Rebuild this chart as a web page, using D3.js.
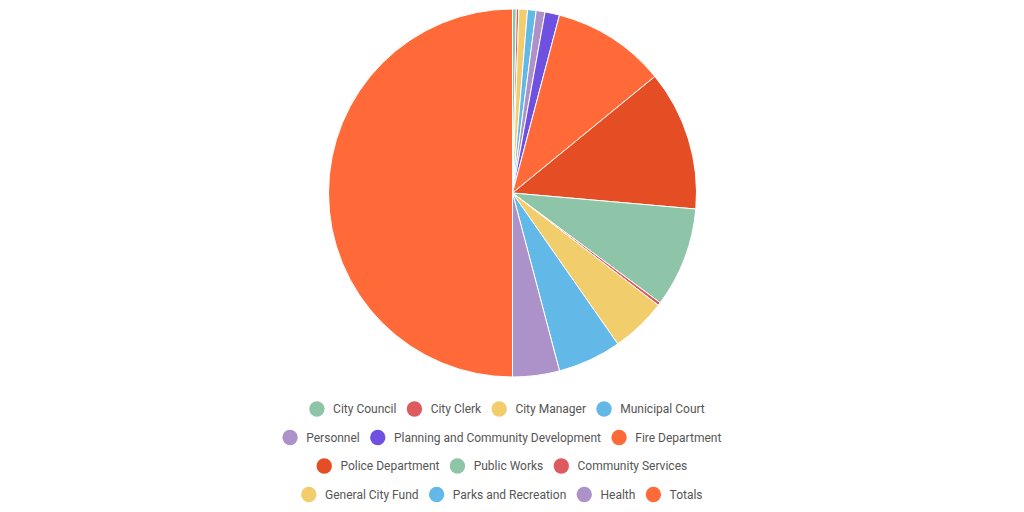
<!DOCTYPE html>
<html>
<head>
<meta charset="utf-8">
<script src="https://cdn.jsdelivr.net/npm/d3@7"></script>
<style>
  html, body { margin: 0; padding: 0; background: #fff; }
  svg { display: block; font-family: Roboto, "Open Sans", sans-serif; }
</style>
</head>
<body>
<div id="chart"></div>
<script>
// Departamentos y montos (en proporción)
const DEPARTMENTS = [
    "City Council", "City Clerk", "City Manager", "Municipal Court",
    "Personnel", "Planning and Community Development", "Fire Department",
    "Police Department", "Public Works", "Community Services",
    "General City Fund", "Parks and Recreation", "Health", "Totals"
];
const AMOUNTS = [12, 8, 27, 27, 28, 46, 359, 443, 316, 10, 175, 201, 148, 1800];
const COLORS = [
    "#8ec4a7", "#de5a5f", "#f1cd6c", "#62b8e6",
    "#ad92c9", "#6e51e0", "#ff6a38",
    "#e54d24", "#8ec4a7", "#de5a5f",
    "#f1cd6c", "#62b8e6", "#ad92c9", "#ff6a38"
];

const WIDTH = 1024;
const HEIGHT = 512;
const CX = 512.5;
const CY = 193;
const RADIUS = 184;

const svg = d3.select("#chart").append("svg")
    .attr("width", WIDTH)
    .attr("height", HEIGHT);

const data = DEPARTMENTS.map((name, i) => ({ name: name, value: AMOUNTS[i], color: COLORS[i] }));

// Pie sin ordenar, empezando arriba y en sentido horario
const pie = d3.pie().sort(null).value(d => d.value);
const arc = d3.arc().innerRadius(0).outerRadius(RADIUS);

svg.append("g")
    .attr("transform", `translate(${CX},${CY})`)
    .selectAll("path")
    .data(pie(data))
    .enter().append("path")
    .attr("d", arc)
    .attr("fill", d => d.data.color)
    .attr("stroke", "#fff")
    .attr("stroke-width", 1);

// Leyenda centrada en varias filas
const legend = svg.append("g");
const circleR = 7.7;
const textOffset = 16.2;
const itemGap = 10.3;
const maxRowWidth = 460;
const legendCenter = 507;
const rowY0 = 409;
const rowStep = 28.5;

// Medimos el ancho de cada texto
const measure = legend.append("text").style("font-size", "12px");
const items = data.map(d => {
    measure.text(d.name);
    const w = measure.node().getComputedTextLength();
    return { d: d, width: textOffset + w };
});
measure.remove();

let rows = [];
let current = [];
let currentW = 0;
items.forEach(it => {
    const extra = current.length ? itemGap + circleR + it.width : circleR + it.width;
    if (current.length && currentW + extra > maxRowWidth) {
        rows.push({ items: current, width: currentW });
        current = [];
        currentW = 0;
    }
    currentW += extra;
    current.push(it);
});
if (current.length) rows.push({ items: current, width: currentW });

rows.forEach((row, r) => {
    let x = legendCenter - row.width / 2;
    const y = rowY0 + r * rowStep;
    row.items.forEach(it => {
        const cx = x + circleR;
        legend.append("circle")
            .attr("cx", cx)
            .attr("cy", y)
            .attr("r", circleR)
            .attr("fill", it.d.color);
        legend.append("text")
            .attr("x", cx + textOffset)
            .attr("y", y)
            .attr("dy", "0.35em")
            .style("font-size", "12px")
            .style("fill", "#555")
            .text(it.d.name);
        x = cx + it.width + itemGap;
    });
});
</script>
</body>
</html>
